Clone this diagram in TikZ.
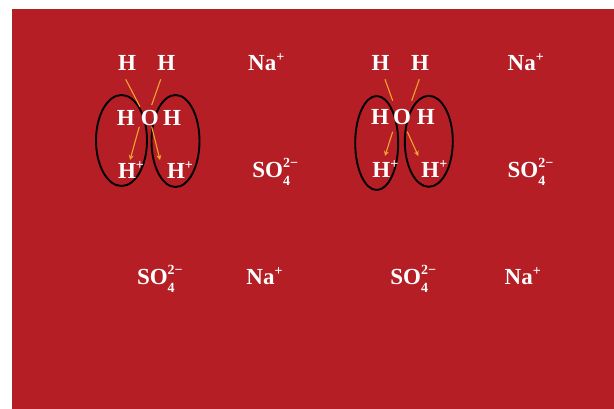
\documentclass[tikz,border=0pt]{standalone}
\usepackage{fontspec}
\setmainfont{Liberation Serif}
\usetikzlibrary{shapes.geometric,arrows.meta}
\definecolor{bg}{HTML}{B41E24}
\definecolor{arr}{HTML}{F2A531}
\newcommand\supsz{\fontsize{14}{14}\selectfont}
\newcommand\hplus{H\raisebox{0.4em}{\supsz +}}
\newcommand\naplus{Na\raisebox{0.4em}{\supsz +}}
\newcommand\sulf{SO\rlap{\raisebox{0.42em}{\supsz 2−}}\raisebox{-0.34em}{\supsz 4}\hphantom{\supsz 2−}}
\tikzset{
  lbl/.style={text=white, font=\fontsize{23}{23}\selectfont\bfseries, inner sep=0pt},
  ring/.style={ellipse, draw=black, line width=1.9pt, inner sep=0pt},
  bond/.style={draw=arr, line width=1.1pt},
  push/.style={draw=arr, line width=1.1pt, -{Stealth[length=5pt,width=5pt]}}
}
\begin{document}
\begin{tikzpicture}[x=1pt,y=-1pt]
\path[use as bounding box] (0,0) rectangle (614,409);
\fill[bg] (12,9) rectangle (614,409);

% left water group
\node[ring, minimum width=51pt, minimum height=91pt] (e1) at (121.5,140.5) {};
\node[ring, minimum width=48pt, minimum height=92pt] (e2) at (175.5,141) {};
\node[lbl, anchor=base] (h1) at (127,70.5) {H};
\node[lbl, anchor=base] (h2) at (166.3,70.5) {H};
\node[lbl, anchor=base] (hl) at (125.8,125.3) {H};
\node[lbl, anchor=base] (o1) at (149.7,125.3) {O};
\node[lbl, anchor=base] (hr) at (172,125.3) {H};
\node[lbl, anchor=base west] (p1) at (117.8,178.5) {\hplus};
\node[lbl, anchor=base west] (p2) at (166.8,178.5) {\hplus};

\coordinate (a1s) at (125.7,79.3); \coordinate (a1e) at (140,106.7);
\coordinate (a2s) at (160.7,79.3); \coordinate (a2e) at (151.7,105);
\coordinate (a3s) at (139.3,126.7); \coordinate (a3e) at (130,160);
\coordinate (a4s) at (151.7,126.7); \coordinate (a4e) at (160,160);
\draw[bond] (a1s) -- (a1e);
\draw[bond] (a2s) -- (a2e);
\draw[push] (a3s) -- (a3e);
\draw[push] (a4s) -- (a4e);

% right water group
\node[ring, minimum width=43pt, minimum height=94pt] (e3) at (376.7,143) {};
\node[ring, minimum width=48pt, minimum height=91pt] (e4) at (428.8,141.3) {};
\node[lbl, anchor=base] (h3) at (380.5,70.7) {H};
\node[lbl, anchor=base] (h4) at (420,70.7) {H};
\node[lbl, anchor=base] (hl2) at (380,124.3) {H};
\node[lbl, anchor=base] (o2) at (402,124.3) {O};
\node[lbl, anchor=base] (hr2) at (425.8,124.3) {H};
\node[lbl, anchor=base west] (p3) at (372.2,177.8) {\hplus};
\node[lbl, anchor=base west] (p4) at (421.2,177.8) {\hplus};

\coordinate (b1s) at (385,79.3); \coordinate (b1e) at (392.7,100.7);
\coordinate (b2s) at (419.3,79.3); \coordinate (b2e) at (411.7,100.7);
\coordinate (b3s) at (392.7,131.7); \coordinate (b3e) at (385,156);
\coordinate (b4s) at (407.3,131.7); \coordinate (b4e) at (418.3,156);
\draw[bond] (b1s) -- (b1e);
\draw[bond] (b2s) -- (b2e);
\draw[push] (b3s) -- (b3e);
\draw[push] (b4s) -- (b4e);

% ions
\node[lbl, anchor=base west] (na1) at (248,70.3) {\naplus};
\node[lbl, anchor=base west] (s1) at (252.2,177.5) {\sulf};
\node[lbl, anchor=base west] (s2) at (136.8,284.3) {\sulf};
\node[lbl, anchor=base west] (na2) at (246.2,284.3) {\naplus};
\node[lbl, anchor=base west] (na3) at (507.5,70.3) {\naplus};
\node[lbl, anchor=base west] (s3) at (507.5,177.3) {\sulf};
\node[lbl, anchor=base west] (s4) at (390.2,284.5) {\sulf};
\node[lbl, anchor=base west] (na4) at (504.5,284.3) {\naplus};
\end{tikzpicture}
\end{document}
